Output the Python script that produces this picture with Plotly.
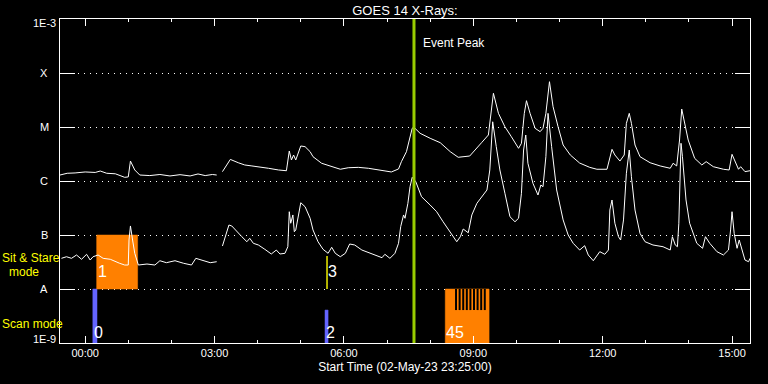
import numpy as np
import plotly.graph_objects as go
from datetime import datetime

# ---------------- data ----------------
long_time = ["23:25", "23:35", "23:46", "00:00", "00:14", "00:21", "00:30", "00:42", "00:55", "01:00",
             "01:03", "01:09", "01:16", "01:30", "01:44", "01:58", "02:12", "02:26", "02:37", "02:47",
             "02:57", "03:03", "03:07", "03:11", "03:15", "03:22", "03:33", "03:42", "03:52", "04:01",
             "04:15", "04:29", "04:40", "04:44", "04:47", "04:50", "04:53", "05:00", "05:06", "05:13",
             "05:17", "05:29", "05:43", "05:55", "06:06", "06:20", "06:34", "06:48", "07:06", "07:16",
             "07:20", "07:27", "07:32", "07:35", "07:37", "07:46", "08:00", "08:14", "08:28", "08:39",
             "08:55", "09:02", "09:12", "09:21", "09:24", "09:28", "09:35", "09:44", "09:53", "10:03",
             "10:07", "10:11", "10:14", "10:19", "10:26", "10:33", "10:37", "10:41", "10:46", "10:51",
             "10:58", "11:05", "11:15", "11:28", "11:42", "11:52", "12:06", "12:13", "12:17", "12:24",
             "12:30", "12:33", "12:37", "12:40", "12:45", "12:52", "13:06", "13:20", "13:34", "13:38",
             "13:43", "13:47", "13:50", "13:53", "13:59", "14:08", "14:18", "14:24", "14:34", "14:48",
             "14:56", "15:00", "15:04", "15:09", "15:12", "15:18", "15:25"]
long_flux = [1.29e-6, 1.39e-6, 1.41e-6, 1.47e-6, 1.44e-6, 1.53e-6, 1.39e-6, 1.36e-6, 1.17e-6, 1.19e-6,
             2.34e-6, 1.60e-6, 1.29e-6, 1.26e-6, 1.32e-6, 1.24e-6, 1.31e-6, 1.24e-6, 1.35e-6, 1.26e-6,
             1.32e-6, 1.29e-6, None, 1.49e-6, 1.84e-6, 2.51e-6, 2.18e-6, 1.98e-6, 1.90e-6, 1.84e-6,
             1.72e-6, 1.60e-6, 1.55e-6, 3.59e-6, 2.45e-6, 3.03e-6, 2.45e-6, 4.45e-6, 4.32e-6, 3.49e-6,
             2.82e-6, 2.13e-6, 1.84e-6, 1.65e-6, 1.76e-6, 1.79e-6, 1.72e-6, 1.60e-6, 1.47e-6, 1.67e-6,
             2.28e-6, 3.49e-6, 6.6e-6, 9.46e-6, 1.0e-5, 7.64e-6, 6.18e-6, 5.12e-6, 3.49e-6, 2.75e-6,
             2.90e-6, 3.75e-6, 5.21e-6, 7.11e-6, 1.45e-5, 4.21e-5, 1.79e-5, 1.01e-5, 6.6e-6, 4.03e-6,
             4.99e-6, 1.79e-5, 3.07e-5, 1.79e-5, 9.46e-6, 8.19e-6, 9.46e-6, 1.79e-5, 6.9e-5, 2.38e-5,
             1.01e-5, 4.64e-6, 3.03e-6, 2.15e-6, 1.79e-6, 1.65e-6, 1.65e-6, 3.86e-6, 3.03e-6, 2.34e-6,
             3.03e-6, 1.17e-5, 1.79e-5, 1.17e-5, 4.64e-6, 2.82e-6, 2.18e-6, 1.90e-6, 1.72e-6, 2.13e-6,
             1.90e-6, 5.74e-6, 2.15e-5, 1.35e-5, 5.74e-6, 2.63e-6, 1.98e-6, 2.28e-6, 1.84e-6, 1.65e-6,
             1.60e-6, 3.12e-6, 2.28e-6, 1.65e-6, 1.84e-6, 1.49e-6, 1.55e-6]

short_time = ["23:27", "23:34", "23:41", "23:48", "23:55", "00:02", "00:07", "00:11", "00:18", "00:25",
              "00:35", "00:42", "00:48", "00:55", "01:00", "01:01", "01:03", "01:06", "01:09", "01:14",
              "01:26", "01:37", "01:44", "01:53", "02:05", "02:17", "02:28", "02:34", "02:44", "02:54",
              "03:03", "03:07", "03:11", "03:15", "03:20", "03:24", "03:31", "03:38", "03:45", "03:49",
              "03:54", "04:01", "04:10", "04:19", "04:26", "04:31", "04:38", "04:42", "04:44", "04:46",
              "04:49", "04:51", "04:53", "04:56", "05:00", "05:06", "05:13", "05:17", "05:24", "05:31",
              "05:38", "05:43", "05:48", "05:55", "06:02", "06:08", "06:15", "06:25", "06:34", "06:43",
              "06:53", "06:57", "07:04", "07:11", "07:16", "07:19", "07:23", "07:25", "07:29", "07:32",
              "07:35", "07:40", "07:48", "08:00", "08:09", "08:18", "08:28", "08:37", "08:42", "08:46",
              "08:53", "08:58", "09:05", "09:12", "09:19", "09:23", "09:27", "09:32", "09:37", "09:44",
              "09:51", "09:58", "10:03", "10:07", "10:10", "10:13", "10:16", "10:23", "10:28", "10:30",
              "10:34", "10:37", "10:41", "10:44", "10:49", "10:56", "11:05", "11:12", "11:19", "11:28",
              "11:35", "11:40", "11:47", "11:56", "12:03", "12:08", "12:10", "12:13", "12:17", "12:22",
              "12:25", "12:29", "12:33", "12:37", "12:40", "12:45", "12:52", "12:59", "13:10", "13:24",
              "13:34", "13:37", "13:41", "13:44", "13:46", "13:49", "13:51", "13:56", "14:01", "14:11",
              "14:19", "14:23", "14:29", "14:39", "14:48", "14:55", "14:58", "15:00", "15:03", "15:07",
              "15:10", "15:13", "15:18", "15:23", "15:25"]
short_flux = [3.7e-8, 3.96e-8, 3.7e-8, 4.26e-8, 3.55e-8, 4.39e-8, 3.44e-8, 3.96e-8, 4.26e-8, 3.7e-8,
              3.55e-8, 3.2e-8, 2.99e-8, 2.78e-8, 2.78e-8, 8.07e-8, 1.47e-7, 8.07e-8, 4.58e-8, 2.78e-8,
              2.9e-8, 2.78e-8, 3.34e-8, 3.07e-8, 3.34e-8, 2.99e-8, 2.78e-8, 3.7e-8, 3.34e-8, 3.07e-8,
              3.2e-8, None, 6.25e-8, 9.3e-8, 1.53e-7, 1.47e-7, 1.15e-7, 9.3e-8, 7.51e-8, 8.69e-8,
              7.02e-8, 6.53e-8, 5.43e-8, 4.45e-8, 5.27e-8, 4.45e-8, 4.58e-8, 6.07e-8, 2.7e-7, 1.65e-7,
              2.35e-7, 1.15e-7, 1.24e-7, 2.18e-7, 3.96e-7, 3.34e-7, 2.04e-7, 1.24e-7, 7.51e-8, 5.43e-8,
              4.58e-8, 5.92e-8, 4.58e-8, 3.96e-8, 4.58e-8, 6.81e-8, 6.53e-8, 5.27e-8, 4.7e-8, 4.26e-8,
              3.8e-8, 4.39e-8, 3.7e-8, 4.58e-8, 7.02e-8, 1.43e-7, 2.35e-7, 2.04e-7, 3.86e-7, 7.83e-7,
              1.17e-6, 9.7e-7, 5.12e-7, 3.59e-7, 2.7e-7, 1.76e-7, 1.15e-7, 7.51e-8, 9.3e-8, 1.29e-7,
              1.1e-7, 2.35e-7, 3.86e-7, 5.12e-7, 6.81e-7, 1.6e-6, 1.25e-5, 4.32e-6, 1.6e-6, 5.92e-7,
              2.18e-7, 1.76e-7, 2.04e-7, 5.92e-7, 3.75e-6, 7.11e-6, 2.13e-6, 9.06e-7, 6.34e-7, 5.5e-7,
              8.43e-7, 7.83e-7, 2.82e-6, 1.79e-5, 4.32e-6, 6.81e-7, 1.9e-7, 1.0e-7, 7.02e-8, 5.27e-8,
              6.34e-8, 4.26e-8, 3.34e-8, 4.91e-8, 4.39e-8, 5.27e-8, 2.9e-7, 4.45e-7, 1.65e-7, 9.3e-8,
              8.07e-8, 1.9e-7, 1.39e-6, 3.75e-6, 1.2e-6, 2.9e-7, 1.07e-7, 7.51e-8, 6.53e-8, 6.07e-8,
              5.27e-8, 9.3e-8, 6.53e-8, 6.07e-8, 1.65e-7, 4.99e-6, 2.82e-6, 4.45e-7, 1.65e-7, 7.02e-8,
              5.67e-8, 9.3e-8, 7.02e-8, 4.91e-8, 4.26e-8, 5.27e-8, 1.24e-7, 2.7e-7, 1.07e-7, 5.67e-8,
              8.07e-8, 5.67e-8, 3.44e-8, 3.2e-8, 3.7e-8]

# y-axis class labels
class_vals = [1e-9, 1e-8, 1e-7, 1e-6, 1e-5, 1e-4, 1e-3]
class_text = ["1E-9", "A", "B", "C", "M", "X", "1E-3"]

# observations: label, start, end, mode, colour kind, relative height
obs_label = ["0", "1", "2", "3", "45"]
obs_start = ["00:10:40", "00:16", "05:33:40", "05:36:30", "08:21"]
obs_end = ["00:16:30", "01:13", "05:38:00", "05:36:30", "09:22"]
obs_mode = ["scan", "sit", "scan", "sit", "scan"]
obs_kind = ["blue", "orange", "blue", "yellow", "orange"]
obs_height = [1.0, 1.0, 0.61, 0.61, 1.0]
raster_marks = ["08:36", "08:41", "08:46", "08:51", "08:56", "09:01", "09:06", "09:11", "09:16"]

event_peak = "07:37:30"
x_start, x_end = "23:25", "15:25"


def to_dt(s):
    p = [int(v) for v in s.split(":")]
    sec = p[2] if len(p) > 2 else 0
    day = 2 if p[0] >= 23 else 3
    return datetime(2023, 5, day, p[0], p[1], sec)


colors = {"blue": "#6464ff", "orange": "#ff8000", "yellow": "#ffff00"}
band = {"scan": (-9.0, -8.0), "sit": (-8.0, -7.0)}   # log10 flux limits of each mode band

fig = go.Figure()
annotations = []

# observation blocks (drawn first, under the curves)
for lab, s, e, m, k, h in zip(obs_label, obs_start, obs_end, obs_mode, obs_kind, obs_height):
    lo, hi = band[m]
    ylo, yhi = 10 ** lo, 10 ** (lo + h * (hi - lo))
    if s == e:
        fig.add_trace(go.Scatter(x=[to_dt(s), to_dt(e)], y=[ylo, yhi], mode="lines",
                                 line=dict(color=colors[k], width=1.4), hoverinfo="skip"))
    else:
        xs = [to_dt(s), to_dt(e), to_dt(e), to_dt(s), to_dt(s)]
        fig.add_trace(go.Scatter(x=xs, y=[ylo, ylo, yhi, yhi, ylo], mode="lines", fill="toself",
                                 fillcolor=colors[k], line=dict(width=0.5, color=colors[k]),
                                 hoverinfo="skip"))
    ylab = lo + 0.19 * (hi - lo) if m == "scan" else lo + 0.32 * (hi - lo)
    annotations.append(dict(x=to_dt(s), y=ylab, xref="x", yref="y", text=lab, showarrow=False,
                            xanchor="left", yanchor="middle", xshift=0, borderpad=0,
                            font=dict(family="Liberation Sans", size=16, color="white")))

# raster marks inside block 45
rx, ry = [], []
for t in raster_marks:
    rx += [to_dt(t), to_dt(t), None]
    ry += [1e-8, 10 ** -8.39, None]
fig.add_trace(go.Scatter(x=rx, y=ry, mode="lines", line=dict(color="black", width=2),
                         connectgaps=False, hoverinfo="skip"))

# GOES curves
fig.add_trace(go.Scatter(x=[to_dt(t) for t in long_time], y=long_flux, mode="lines",
                         line=dict(color="white", width=1), connectgaps=False, name="1-8 A"))
fig.add_trace(go.Scatter(x=[to_dt(t) for t in short_time], y=short_flux, mode="lines",
                         line=dict(color="white", width=1), connectgaps=False, name="0.5-4 A"))

shapes = [dict(type="line", xref="x", yref="paper", x0=to_dt(event_peak), x1=to_dt(event_peak),
               y0=0, y1=1, line=dict(color="#99cc00", width=3), layer="above")]
annotations.append(dict(x=to_dt(event_peak), y=0.926, xref="x", yref="paper", text="Event Peak",
                        showarrow=False, xanchor="left", yanchor="middle", xshift=7,
                        font=dict(family="Liberation Sans", size=12, color="white")))

for v, t in zip(class_vals, class_text):
    ys = -4 if t == "1E-3" else (4 if t == "1E-9" else 0)
    annotations.append(dict(x=-16 / 690, y=np.log10(v), xref="paper", yref="y", text=t,
                            showarrow=False, xanchor="center", yanchor="middle", yshift=ys,
                            font=dict(family="Liberation Sans", size=11, color="white")))

yellow = dict(family="Liberation Sans", size=12, color="#ffff00")
annotations.append(dict(x=(1 - 60) / 690, y=(343 - 258) / 324, xref="paper", yref="paper",
                        text="Sit & Stare", showarrow=False, xanchor="left", yanchor="middle",
                        borderpad=0, font=yellow))
annotations.append(dict(x=(24 - 60) / 690, y=(343 - 272) / 324, xref="paper", yref="paper",
                        text="mode", showarrow=False, xanchor="center", yanchor="middle",
                        borderpad=0, font=yellow))
annotations.append(dict(x=(1 - 60) / 690, y=(343 - 324) / 324, xref="paper", yref="paper",
                        text="Scan mode", showarrow=False, xanchor="left", yanchor="middle",
                        borderpad=0, font=yellow))

fig.update_layout(
    width=768, height=384,
    paper_bgcolor="black", plot_bgcolor="black",
    margin=dict(l=60, r=18, t=19, b=41, autoexpand=False),
    showlegend=False,
    title=dict(text="GOES 14 X-Rays:", x=0.5, xref="paper", xanchor="center",
               y=1 - 10 / 384, yref="container", yanchor="middle",
               font=dict(family="Liberation Sans", size=13, color="white")),
    shapes=shapes,
    annotations=annotations,
    xaxis=dict(
        type="date", range=[to_dt(x_start), to_dt(x_end)],
        showgrid=False, zeroline=False,
        showline=True, linecolor="white", linewidth=1, mirror="ticks",
        ticks="inside", ticklen=7, tickwidth=1, tickcolor="white",
        tick0=to_dt("00:00"), dtick=3 * 3600 * 1000, tickformat="%H:%M",
        tickfont=dict(family="Liberation Sans", size=11, color="white"),
        minor=dict(dtick=3600 * 1000, ticks="inside", ticklen=3, tickcolor="white", showgrid=False),
        title=dict(text="Start Time (02-May-23 23:25:00)", standoff=4,
                   font=dict(family="Liberation Sans", size=12, color="white")),
        automargin=False,
    ),
    yaxis=dict(
        type="log", range=[-9, -3],
        tickmode="array", tickvals=class_vals, showticklabels=False,
        ticks="inside", ticklen=15, tickwidth=1, tickcolor="white",
        showline=True, linecolor="white", linewidth=1, mirror="ticks",
        showgrid=True, gridcolor="white", gridwidth=1, griddash="1px,5px",
        zeroline=False, automargin=False,
    ),
)

fig.write_html("out.html", config={"displayModeBar": False},
               post_script="document.body.style.margin='0';document.body.style.overflow='hidden';")
